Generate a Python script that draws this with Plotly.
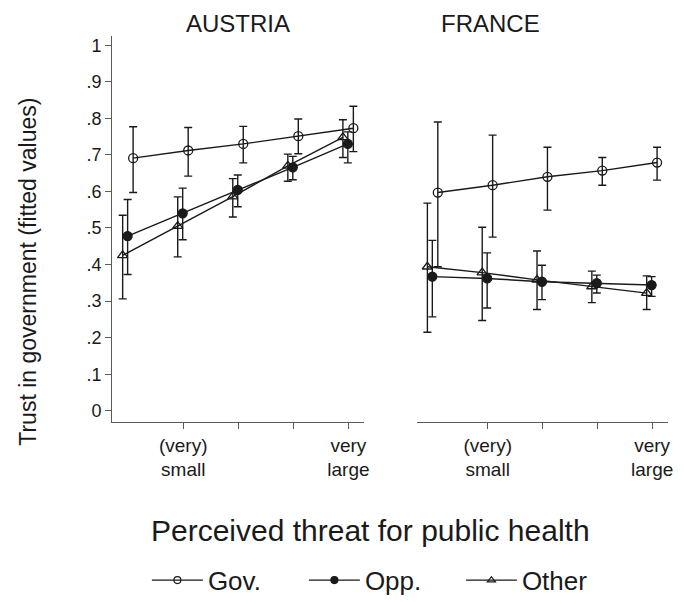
import plotly.graph_objects as go

# threat levels (1 = lowest ... 5 = highest)
threat = [1, 2, 3, 4, 5]
tick_vals = [2, 3, 4, 5]
tick_text = ["(very)<br>small", "", "", "very<br>large"]

y_ticks = [0, 0.1, 0.2, 0.3, 0.4, 0.5, 0.6, 0.7, 0.8, 0.9, 1]
y_labels = ["0", ".1", ".2", ".3", ".4", ".5", ".6", ".7", ".8", ".9", "1"]

# AUSTRIA: fitted values with lower / upper CI bounds
aut_gov = [0.691, 0.712, 0.730, 0.751, 0.773]
aut_gov_lo = [0.597, 0.642, 0.678, 0.703, 0.709]
aut_gov_hi = [0.777, 0.775, 0.778, 0.798, 0.833]

aut_opp = [0.478, 0.540, 0.604, 0.666, 0.730]
aut_opp_lo = [0.373, 0.468, 0.558, 0.632, 0.678]
aut_opp_hi = [0.578, 0.609, 0.645, 0.696, 0.763]

aut_oth = [0.425, 0.505, 0.586, 0.670, 0.748]
aut_oth_lo = [0.306, 0.421, 0.530, 0.628, 0.693]
aut_oth_hi = [0.535, 0.585, 0.635, 0.702, 0.796]

# FRANCE
fra_gov = [0.597, 0.617, 0.640, 0.657, 0.679]
fra_gov_lo = [0.394, 0.475, 0.549, 0.617, 0.631]
fra_gov_hi = [0.790, 0.754, 0.721, 0.693, 0.721]

fra_opp = [0.367, 0.362, 0.353, 0.349, 0.344]
fra_opp_lo = [0.257, 0.281, 0.304, 0.322, 0.313]
fra_opp_hi = [0.466, 0.432, 0.398, 0.371, 0.367]

fra_oth = [0.394, 0.378, 0.358, 0.340, 0.322]
fra_oth_lo = [0.215, 0.247, 0.277, 0.296, 0.277]
fra_oth_hi = [0.568, 0.502, 0.437, 0.382, 0.369]

FONT = "Liberation Sans, Arial, Helvetica, sans-serif"
INK = "#1a1a1a"
AXIS = "#5a5a5a"

# small horizontal dodge so the CIs do not overlap
styles = {
    "Gov.": dict(symbol="circle-open", dx=0.09),
    "Opp.": dict(symbol="circle", dx=-0.01),
    "Other": dict(symbol="triangle-up-open", dx=-0.1),
}

panels = [
    ("x", "y", {"Gov.": (aut_gov, aut_gov_lo, aut_gov_hi),
                "Opp.": (aut_opp, aut_opp_lo, aut_opp_hi),
                "Other": (aut_oth, aut_oth_lo, aut_oth_hi)}),
    ("x2", "y2", {"Gov.": (fra_gov, fra_gov_lo, fra_gov_hi),
                  "Opp.": (fra_opp, fra_opp_lo, fra_opp_hi),
                  "Other": (fra_oth, fra_oth_lo, fra_oth_hi)}),
]

fig = go.Figure()

for xa, ya, series in panels:
    for name, (val, lo, hi) in series.items():
        st = styles[name]
        fig.add_trace(go.Scatter(
            x=[t + st["dx"] for t in threat],
            y=val,
            xaxis=xa, yaxis=ya,
            mode="lines+markers",
            line=dict(color=INK, width=1.4),
            marker=dict(symbol=st["symbol"], size=9, color=INK,
                        line=dict(color=INK, width=1.3)),
            error_y=dict(type="data", symmetric=False,
                         array=[h - v for h, v in zip(hi, val)],
                         arrayminus=[v - l for v, l in zip(val, lo)],
                         color=INK, thickness=1.4, width=4),
            showlegend=False,
            hoverinfo="skip",
        ))

# legend entries (smaller symbols, like the original)
for name in ["Gov.", "Opp.", "Other"]:
    fig.add_trace(go.Scatter(
        x=[None], y=[None], name=name,
        mode="lines+markers",
        line=dict(color=INK, width=1.4),
        marker=dict(symbol=styles[name]["symbol"], size=7, color=INK,
                    line=dict(color=INK, width=1.2)),
    ))

xcommon = dict(range=[0.71, 5.29], tickmode="array", tickvals=tick_vals,
               ticktext=tick_text, ticks="outside", ticklen=6, tickwidth=1.2,
               tickcolor=AXIS, showline=True, linecolor=AXIS, linewidth=1.2,
               showgrid=False, zeroline=False,
               tickfont=dict(family=FONT, size=19, color=INK))

# page body has an 8px margin, so the figure is 676x596
fig.update_layout(
    width=676, height=596,
    margin=dict(l=0, r=0, t=0, b=0),
    paper_bgcolor="white", plot_bgcolor="white",
    font=dict(family=FONT, color=INK),
    xaxis=dict(domain=[0.1553, 0.5311], anchor="y", **xcommon),
    xaxis2=dict(domain=[0.6095, 0.9837], anchor="y2", **xcommon),
    yaxis=dict(domain=[0.2975, 0.9530], anchor="x", range=[-0.03, 1.026],
               tickmode="array", tickvals=y_ticks, ticktext=y_labels,
               ticks="outside", ticklen=6, tickwidth=1.2, tickcolor=AXIS,
               showline=True, linecolor=AXIS, linewidth=1.2,
               showgrid=False, zeroline=False,
               tickfont=dict(family=FONT, size=18, color=INK)),
    yaxis2=dict(domain=[0.2975, 0.9530], anchor="x2", range=[-0.03, 1.026],
                showticklabels=False, showline=False, ticks="",
                showgrid=False, zeroline=False),
    showlegend=True,
    legend=dict(orientation="h", x=0.207, xanchor="left",
                y=0.0285, yanchor="middle",
                font=dict(family=FONT, size=26, color=INK),
                itemwidth=51, entrywidth=91, bgcolor="rgba(0,0,0,0)"),
    annotations=[
        dict(text="AUSTRIA", x=0.3432, y=1.0, xref="paper", yref="paper",
             yanchor="top", showarrow=False, font=dict(size=24)),
        dict(text="FRANCE", x=0.7959, y=1.0, xref="paper", yref="paper",
             yanchor="top", showarrow=False, font=dict(size=24)),
        dict(text="Trust in government (fitted values)", textangle=-90,
             x=0.0296, y=0.552, xref="paper", yref="paper",
             xanchor="center", yanchor="middle",
             showarrow=False, font=dict(size=23)),
        dict(text="Perceived threat for public health",
             x=0.540, y=0.1124, xref="paper", yref="paper",
             yanchor="middle", showarrow=False, font=dict(size=30)),
    ],
)

fig.write_html("out.html")
